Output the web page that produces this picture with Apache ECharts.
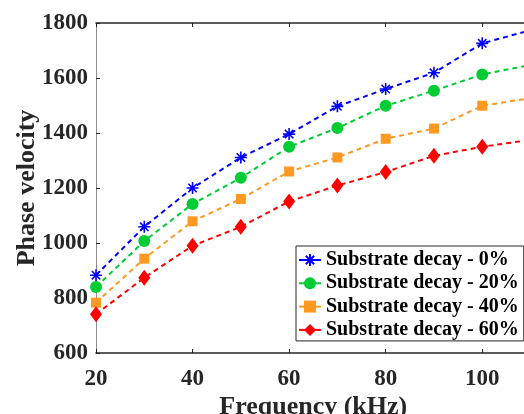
<!DOCTYPE html>
<html>
<head>
<meta charset="utf-8">
<script src="https://cdn.jsdelivr.net/npm/echarts@6/dist/echarts.min.js"></script>
<style>
  html, body { margin: 0; padding: 0; background: #fff; }
  #chart { width: 524px; height: 414px; }
</style>
</head>
<body>
<div id="chart"></div>
<script>
// Frequency points (kHz)
const frequency = [20, 30, 40, 50, 60, 70, 80, 90, 100, 110];

// Phase velocity for each substrate decay level
const decay0  = [883, 1059, 1200, 1311, 1396, 1497, 1560, 1619, 1726, 1774];
const decay20 = [840, 1007, 1142, 1237, 1350, 1418, 1499, 1554, 1613, 1647];
const decay40 = [783,  943, 1079, 1160, 1260, 1311, 1379, 1416, 1499, 1527];
const decay60 = [741,  874,  990, 1059, 1151, 1209, 1258, 1317, 1350, 1375];

const seriesNames = [
  'Substrate decay - 0%',
  'Substrate decay - 20%',
  'Substrate decay - 40%',
  'Substrate decay - 60%'
];

const yTicks = { min: 600, max: 1800, step: 200 };
const xTicks = { min: 20, max: 110, step: 20 };

const FONT = '"Liberation Serif", "Times New Roman", serif';
const AXIS_COLOR = '#262626';

// eight-armed asterisk drawn as stroked segments
const ASTERISK = 'path://M5 0 L5 10 M0 5 L10 5 M1.5 1.5 L8.5 8.5 M8.5 1.5 L1.5 8.5';

function pairs(ys) {
  return frequency.map((x, i) => [x, ys[i]]);
}

function lineSeries(name, ys, color, symbol, size, extraItem) {
  return {
    name: name,
    type: 'line',
    data: pairs(ys),
    symbol: symbol,
    symbolSize: size,
    showAllSymbol: true,
    clip: true,
    lineStyle: { color: color, width: 2, type: [5, 4] },
    itemStyle: Object.assign({ color: color, opacity: 1 }, extraItem || {}),
    emphasis: { disabled: true },
    z: 3
  };
}

const plainNumber = v => String(v);

const chart = echarts.init(document.getElementById('chart'), null, { renderer: 'canvas' });

chart.setOption({
  animation: false,
  backgroundColor: '#ffffff',
  grid: {
    left: 96, top: 23, right: -6.5, bottom: 61,
    containLabel: false,
    outerBoundsMode: 'none'
  },
  legend: {
    orient: 'vertical',
    left: 296,
    top: 246,
    padding: [4, 5, 1, 2],
    itemGap: 3.3,
    itemWidth: 22,
    itemHeight: 15,
    backgroundColor: '#ffffff',
    borderColor: AXIS_COLOR,
    borderWidth: 1,
    borderRadius: 0,
    lineStyle: { type: 'solid' },
    textStyle: {
      fontFamily: FONT,
      fontWeight: 'bold',
      fontSize: 20,
      lineHeight: 20,
      color: '#000000'
    },
    data: seriesNames
  },
  xAxis: [
    {
      type: 'value',
      min: xTicks.min,
      max: xTicks.max,
      interval: xTicks.step,
      position: 'bottom',
      name: 'Frequency (kHz)',
      nameLocation: 'middle',
      nameGap: 41,
      nameMoveOverlap: false,
      nameTextStyle: { fontFamily: FONT, fontWeight: 'bold', fontSize: 26, color: AXIS_COLOR },
      axisLine: { show: true, lineStyle: { color: AXIS_COLOR, width: 1.5 } },
      axisTick: { show: true, inside: true, length: 4, lineStyle: { color: AXIS_COLOR, width: 1 } },
      axisLabel: {
        margin: 15,
        showMaxLabel: false,
        formatter: plainNumber,
        fontFamily: FONT, fontWeight: 'bold', fontSize: 23, color: AXIS_COLOR
      },
      splitLine: { show: false }
    },
    {
      type: 'value',
      min: xTicks.min,
      max: xTicks.max,
      interval: xTicks.step,
      position: 'top',
      axisLine: { show: true, lineStyle: { color: AXIS_COLOR, width: 1.5 } },
      axisTick: { show: true, inside: true, length: 4, lineStyle: { color: AXIS_COLOR, width: 1 } },
      axisLabel: { show: false },
      splitLine: { show: false }
    }
  ],
  yAxis: {
    type: 'value',
    min: yTicks.min,
    max: yTicks.max,
    interval: yTicks.step,
    name: 'Phase velocity',
    nameLocation: 'middle',
    nameGap: 56,
    nameMoveOverlap: false,
    nameTextStyle: { fontFamily: FONT, fontWeight: 'bold', fontSize: 26, color: AXIS_COLOR },
    axisLine: { show: true, lineStyle: { color: '#8c8c8c', width: 1 } },
    axisTick: { show: true, inside: true, length: 4, lineStyle: { color: AXIS_COLOR, width: 1 } },
    axisLabel: {
      margin: 8,
      formatter: plainNumber,
      fontFamily: FONT, fontWeight: 'bold', fontSize: 23, color: AXIS_COLOR
    },
    splitLine: { show: false }
  },
  series: [
    lineSeries(seriesNames[0], decay0, '#0000ff', ASTERISK, 12,
      { borderColor: '#0000ff', borderWidth: 1.6 }),
    lineSeries(seriesNames[1], decay20, '#00cc33', 'circle', 12),
    lineSeries(seriesNames[2], decay40, '#ff9922', 'rect', 10),
    lineSeries(seriesNames[3], decay60, '#ff0000', 'diamond', [12, 16])
  ]
});
</script>
</body>
</html>
